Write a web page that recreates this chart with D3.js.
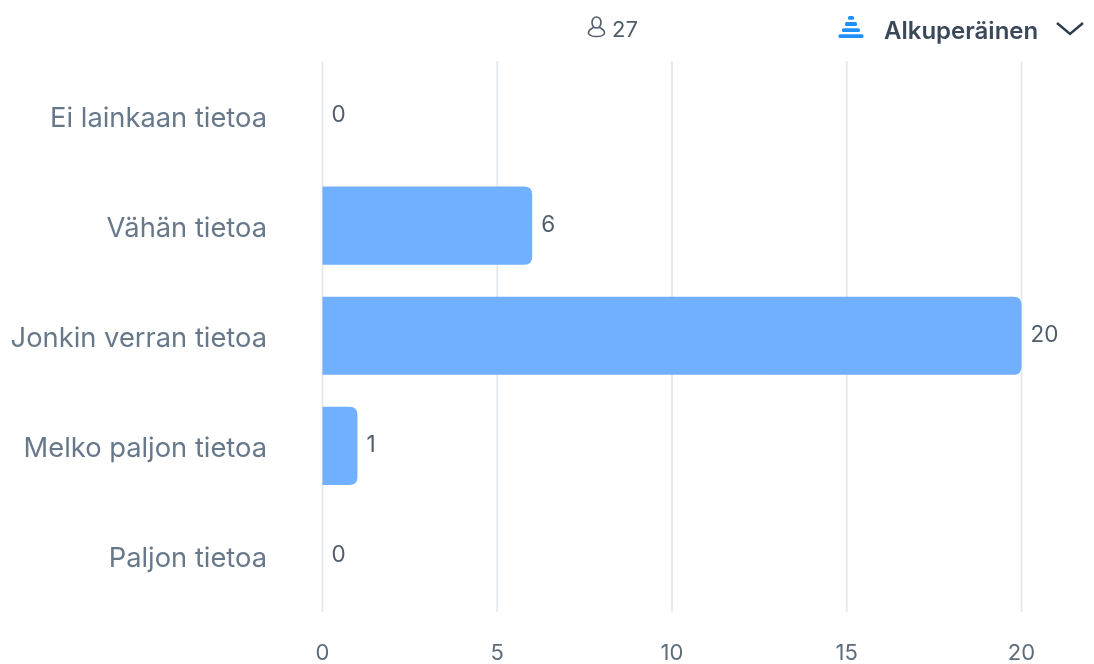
<!DOCTYPE html>
<html><head><meta charset="utf-8">
<script src="https://cdn.jsdelivr.net/npm/d3@7"></script>
<style>html,body{margin:0;padding:0;background:#fff;overflow:hidden}svg{display:block;font-family:Inter,sans-serif;filter:blur(0.45px)}</style>
</head><body><svg id="c" width="1094" height="664"></svg>
<script>
const categories = ["Ei lainkaan tietoa","Vähän tietoa","Jonkin verran tietoa","Melko paljon tietoa","Paljon tietoa"];
const values = [0,6,20,1,0];
const ticks = [0,5,10,15,20];
const respondents = 27;
const sortLabel = "Alkuperäinen";
const stackWidths = [6,12,18,25];

const svg = d3.select("#c");
const x = d3.scaleLinear().domain([0,20]).range([322.5,1021.5]);
const y = d3.scaleBand().domain(categories).range([60.5,611]).paddingInner(0.29).paddingOuter(0.145);

svg.append("g").selectAll("line").data(ticks).join("line")
  .attr("x1",d=>x(d)).attr("x2",d=>x(d)).attr("y1",61).attr("y2",612)
  .attr("stroke","#e3e9ec").attr("stroke-width",1.8);

svg.append("g").selectAll("text").data(ticks).join("text")
  .attr("x",d=>x(d)).attr("y",659.5).attr("text-anchor","middle")
  .attr("font-size",22).attr("fill","#5d6c7b").text(d=>d);

const r = 8;
svg.append("g").selectAll("path").data(categories.map((c,i)=>({c,v:values[i]})).filter(d=>d.v>0)).join("path")
  .attr("fill","#70b0ff")
  .attr("d",d=>{
    const x0=x(0),x1=x(d.v),y0=y(d.c),y1=y0+y.bandwidth();
    return `M${x0},${y0}H${x1-r}Q${x1},${y0} ${x1},${y0+r}V${y1-r}Q${x1},${y1} ${x1-r},${y1}H${x0}Z`;
  });

svg.append("g").selectAll("text").data(categories).join("text")
  .attr("x",267).attr("y",d=>y(d)+y.bandwidth()/2+11).attr("text-anchor","end")
  .attr("font-size",27.3).attr("fill","#66788a").text(d=>d);

svg.append("g").selectAll("text").data(values).join("text")
  .attr("x",d=>x(d)+9).attr("y",(d,i)=>y(categories[i])+y.bandwidth()/2+6.5)
  .attr("font-size",22.5).attr("fill","#4f5d6b").text(d=>d);

const head = svg.append("g").attr("fill","none").attr("stroke","#4f5d6b").attr("stroke-width",1.6);
head.append("ellipse").attr("cx",596.5).attr("cy",22.5).attr("rx",4.5).attr("ry",5.5);
head.append("path").attr("d","M593.5,27.5Q588,30 588.5,33.5Q590,36.5 596.5,36.5Q603,36.5 604.5,33.5Q605,30 599.5,27.5");
svg.append("text").attr("x",612).attr("y",36.5).attr("font-size",22).attr("fill","#4f5d6b").text(respondents);

const iconCx = 851;
svg.append("g").selectAll("rect").data(stackWidths).join("rect")
  .attr("x",d=>iconCx-d/2).attr("y",(d,i)=>16+i*6.1).attr("width",d=>d).attr("height",3.8).attr("rx",1.5)
  .attr("fill","#1e90ff");
svg.append("text").attr("x",884).attr("y",38.5).attr("font-size",24).attr("font-weight",600).attr("fill","#3a4859").text(sortLabel);
svg.append("path").attr("d","M1057,23L1070,34L1083,23").attr("fill","none").attr("stroke","#2e3b4a").attr("stroke-width",2.4);
</script></body></html>
